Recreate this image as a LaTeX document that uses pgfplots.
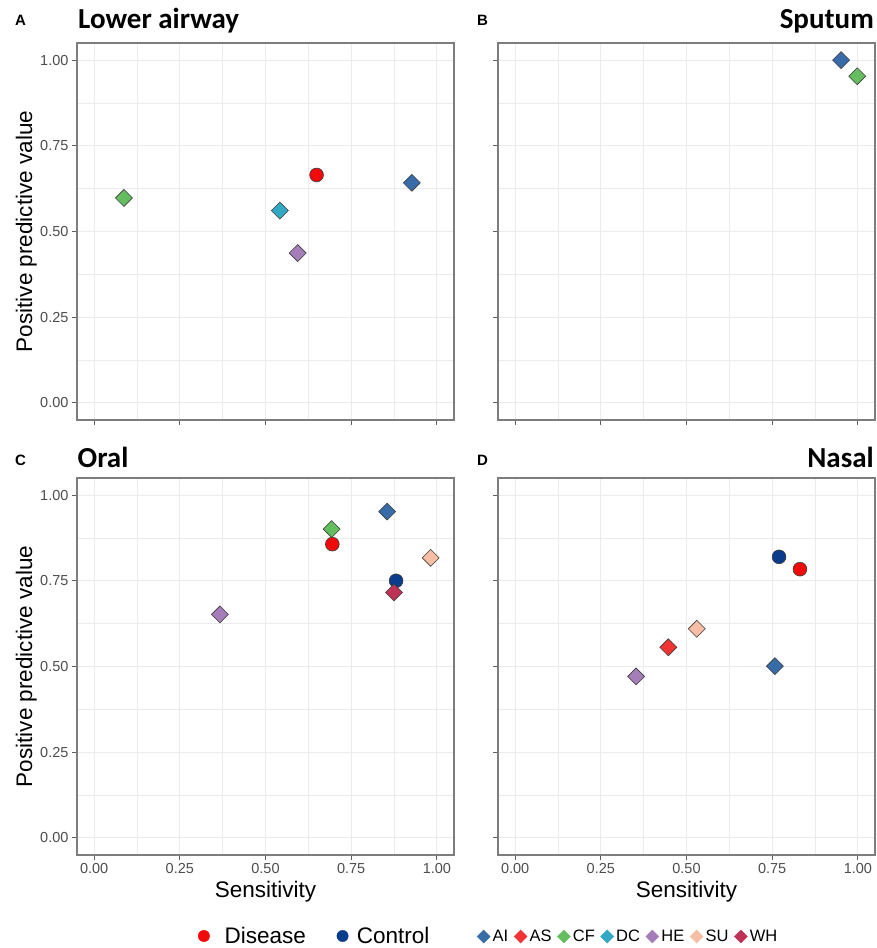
\documentclass[border=0pt]{standalone}
\usepackage{fontspec}
\setmainfont{Liberation Sans}
\newfontfamily\titlefont{Carlito}
\usepackage{pgfplots}
\pgfplotsset{compat=1.18}
\usepgfplotslibrary{groupplots}

\definecolor{cAI}{RGB}{55,108,168}
\definecolor{cAS}{RGB}{240,52,52}
\definecolor{cCF}{RGB}{100,190,95}
\definecolor{cDC}{RGB}{50,168,196}
\definecolor{cHE}{RGB}{165,125,185}
\definecolor{cSU}{RGB}{248,190,165}
\definecolor{cWH}{RGB}{190,50,86}
\definecolor{cDis}{RGB}{240,10,10}
\definecolor{cCtl}{RGB}{10,60,140}
\definecolor{bordc}{RGB}{60,60,60}
\definecolor{gridc}{RGB}{235,235,235}
\definecolor{framec}{RGB}{125,125,125}
\definecolor{tickc}{RGB}{95,95,95}
\definecolor{tlabc}{RGB}{77,77,77}

\pgfplotsset{
  dia/.style={only marks, mark=square*, mark size=6pt,
    mark options={rotate=45, fill=#1, draw=bordc, line width=0.6pt}},
  dot/.style={only marks, mark=*, mark size=6.9pt,
    mark options={fill=#1, draw=bordc, line width=0.6pt}},
  onemark/.style={legend image code/.code={\draw[##1] plot coordinates {(0pt,0pt)};}},
}

\begin{document}
\begin{tikzpicture}
\begin{groupplot}[
  group style={group size=2 by 2, horizontal sep=44pt, vertical sep=58pt},
  width=377pt, height=377pt, scale only axis,
  xmin=-0.05, xmax=1.05, ymin=-0.05, ymax=1.05,
  xtick={0,0.25,0.5,0.75,1}, ytick={0,0.25,0.5,0.75,1},
  minor xtick={0.125,0.375,0.625,0.875},
  minor ytick={0.125,0.375,0.625,0.875},
  grid=both,
  major grid style={color=gridc, line width=1pt},
  minor grid style={color=gridc, line width=0.55pt},
  minor tick length=0pt,
  tick align=outside, major tick length=5pt,
  tick style={color=tickc, line width=0.8pt},
  xtick pos=bottom, ytick pos=left,
  axis line style={color=framec, line width=1.1pt},
  ticklabel style={font=\fontsize{14.5}{16}\selectfont, color=tlabc},
  /pgf/number format/fixed, /pgf/number format/fixed zerofill,
  /pgf/number format/precision=2, /pgf/number format/assume math mode=true,
  title style={font=\titlefont\bfseries\fontsize{29}{31}\selectfont, inner sep=0pt},
  label style={font=\fontsize{22.5}{24}\selectfont, inner sep=0pt},
  ylabel style={at={(axis description cs:-0.1061,0.5)}, anchor=south},
  xlabel style={at={(axis description cs:0.5,-0.0691)}, anchor=north},
]
% A: lower airway
\nextgroupplot[title={Lower airway},
  title style={at={(0,1)}, anchor=south west, xshift=1pt, yshift=3.5pt},
  ylabel={Positive predictive value}, xticklabels={}]
\addplot[dia=cCF] coordinates {(0.087,0.598)};
\addplot[dia=cDC] coordinates {(0.542,0.561)};
\addplot[dia=cHE] coordinates {(0.594,0.437)};
\addplot[dia=cAI] coordinates {(0.927,0.642)};
\addplot[dot=cDis] coordinates {(0.649,0.665)};

% B: sputum
\nextgroupplot[title={Sputum},
  title style={at={(1,1)}, anchor=south east, xshift=-1pt, yshift=3.5pt},
  xticklabels={}, yticklabels={}]
\addplot[dia=cAI] coordinates {(0.951,1.000)};
\addplot[dia=cCF] coordinates {(0.998,0.953)};

% C: oral
\nextgroupplot[title={Oral},
  title style={at={(0,1)}, anchor=south west, xshift=0.5pt, yshift=4pt},
  ylabel={Positive predictive value}, xlabel={Sensitivity},
  legend columns=-1,
  legend style={at={(axis description cs:0,0)}, anchor=west,
    xshift=121pt, yshift=-81pt, draw=none, fill=none, inner sep=0pt,
    nodes={inner sep=0pt}, font=\fontsize{22.5}{24}\selectfont,
    /tikz/column 1/.style={column sep=15pt},
    /tikz/column 2/.style={column sep=31pt},
    /tikz/column 3/.style={column sep=8.5pt}},
  ]
\addlegendimage{onemark, only marks, mark=*, mark size=5.7pt, mark options={fill=cDis, draw=cDis}}
\addlegendentry{Disease}
\addlegendimage{onemark, only marks, mark=*, mark size=5.7pt, mark options={fill=cCtl, draw=cCtl}}
\addlegendentry{Control}
\addplot[dot=cCtl, forget plot] coordinates {(0.881,0.750)};
\addplot[dia=cHE, forget plot] coordinates {(0.367,0.652)};
\addplot[dia=cCF, forget plot] coordinates {(0.693,0.901)};
\addplot[dia=cAI, forget plot] coordinates {(0.855,0.952)};
\addplot[dia=cSU, forget plot] coordinates {(0.982,0.817)};
\addplot[dia=cWH, forget plot] coordinates {(0.875,0.716)};
\addplot[dot=cDis, forget plot] coordinates {(0.695,0.857)};

% D: nasal
\nextgroupplot[title={Nasal},
  title style={at={(1,1)}, anchor=south east, xshift=-1pt, yshift=4pt},
  xlabel={Sensitivity}, yticklabels={},
  legend columns=-1,
  legend style={at={(axis description cs:0,0)}, anchor=west,
    xshift=-21pt, yshift=-81.5pt, draw=none, fill=none, inner sep=0pt,
    nodes={inner sep=0pt}, font=\fontsize{16.5}{18}\selectfont,
    /tikz/every odd column/.style={column sep=2.5pt},
    /tikz/every even column/.style={column sep=5.8pt}},
  ]
\addlegendimage{onemark, only marks, mark=square*, mark size=4.6pt, mark options={rotate=45, fill=cAI, draw=cAI}}
\addlegendentry{AI}
\addlegendimage{onemark, only marks, mark=square*, mark size=4.6pt, mark options={rotate=45, fill=cAS, draw=cAS}}
\addlegendentry{AS}
\addlegendimage{onemark, only marks, mark=square*, mark size=4.6pt, mark options={rotate=45, fill=cCF, draw=cCF}}
\addlegendentry{CF}
\addlegendimage{onemark, only marks, mark=square*, mark size=4.6pt, mark options={rotate=45, fill=cDC, draw=cDC}}
\addlegendentry{DC}
\addlegendimage{onemark, only marks, mark=square*, mark size=4.6pt, mark options={rotate=45, fill=cHE, draw=cHE}}
\addlegendentry{HE}
\addlegendimage{onemark, only marks, mark=square*, mark size=4.6pt, mark options={rotate=45, fill=cSU, draw=cSU}}
\addlegendentry{SU}
\addlegendimage{onemark, only marks, mark=square*, mark size=4.6pt, mark options={rotate=45, fill=cWH, draw=cWH}}
\addlegendentry{WH}
\addplot[dot=cCtl, forget plot] coordinates {(0.770,0.820)};
\addplot[dia=cSU, forget plot] coordinates {(0.530,0.610)};
\addplot[dia=cAS, forget plot] coordinates {(0.447,0.556)};
\addplot[dia=cAI, forget plot] coordinates {(0.758,0.501)};
\addplot[dia=cHE, forget plot] coordinates {(0.353,0.471)};
\addplot[dot=cDis, forget plot] coordinates {(0.831,0.784)};
\end{groupplot}

\coordinate (O) at (group c1r1.north west);
\begin{scope}[every node/.style={anchor=base west, inner sep=0pt, font=\bfseries\fontsize{15}{16}\selectfont}]
\node at ([shift={(-62pt,17pt)}]O) {A};
\node at ([shift={(400pt,17pt)}]O) {B};
\node at ([shift={(-62pt,-422pt)}]O) {C};
\node at ([shift={(400pt,-422pt)}]O) {D};
\end{scope}
\pgfresetboundingbox
\path[use as bounding box] ([shift={(-77pt,43pt)}]O) rectangle ([shift={(800pt,-905pt)}]O);
\end{tikzpicture}
\end{document}
